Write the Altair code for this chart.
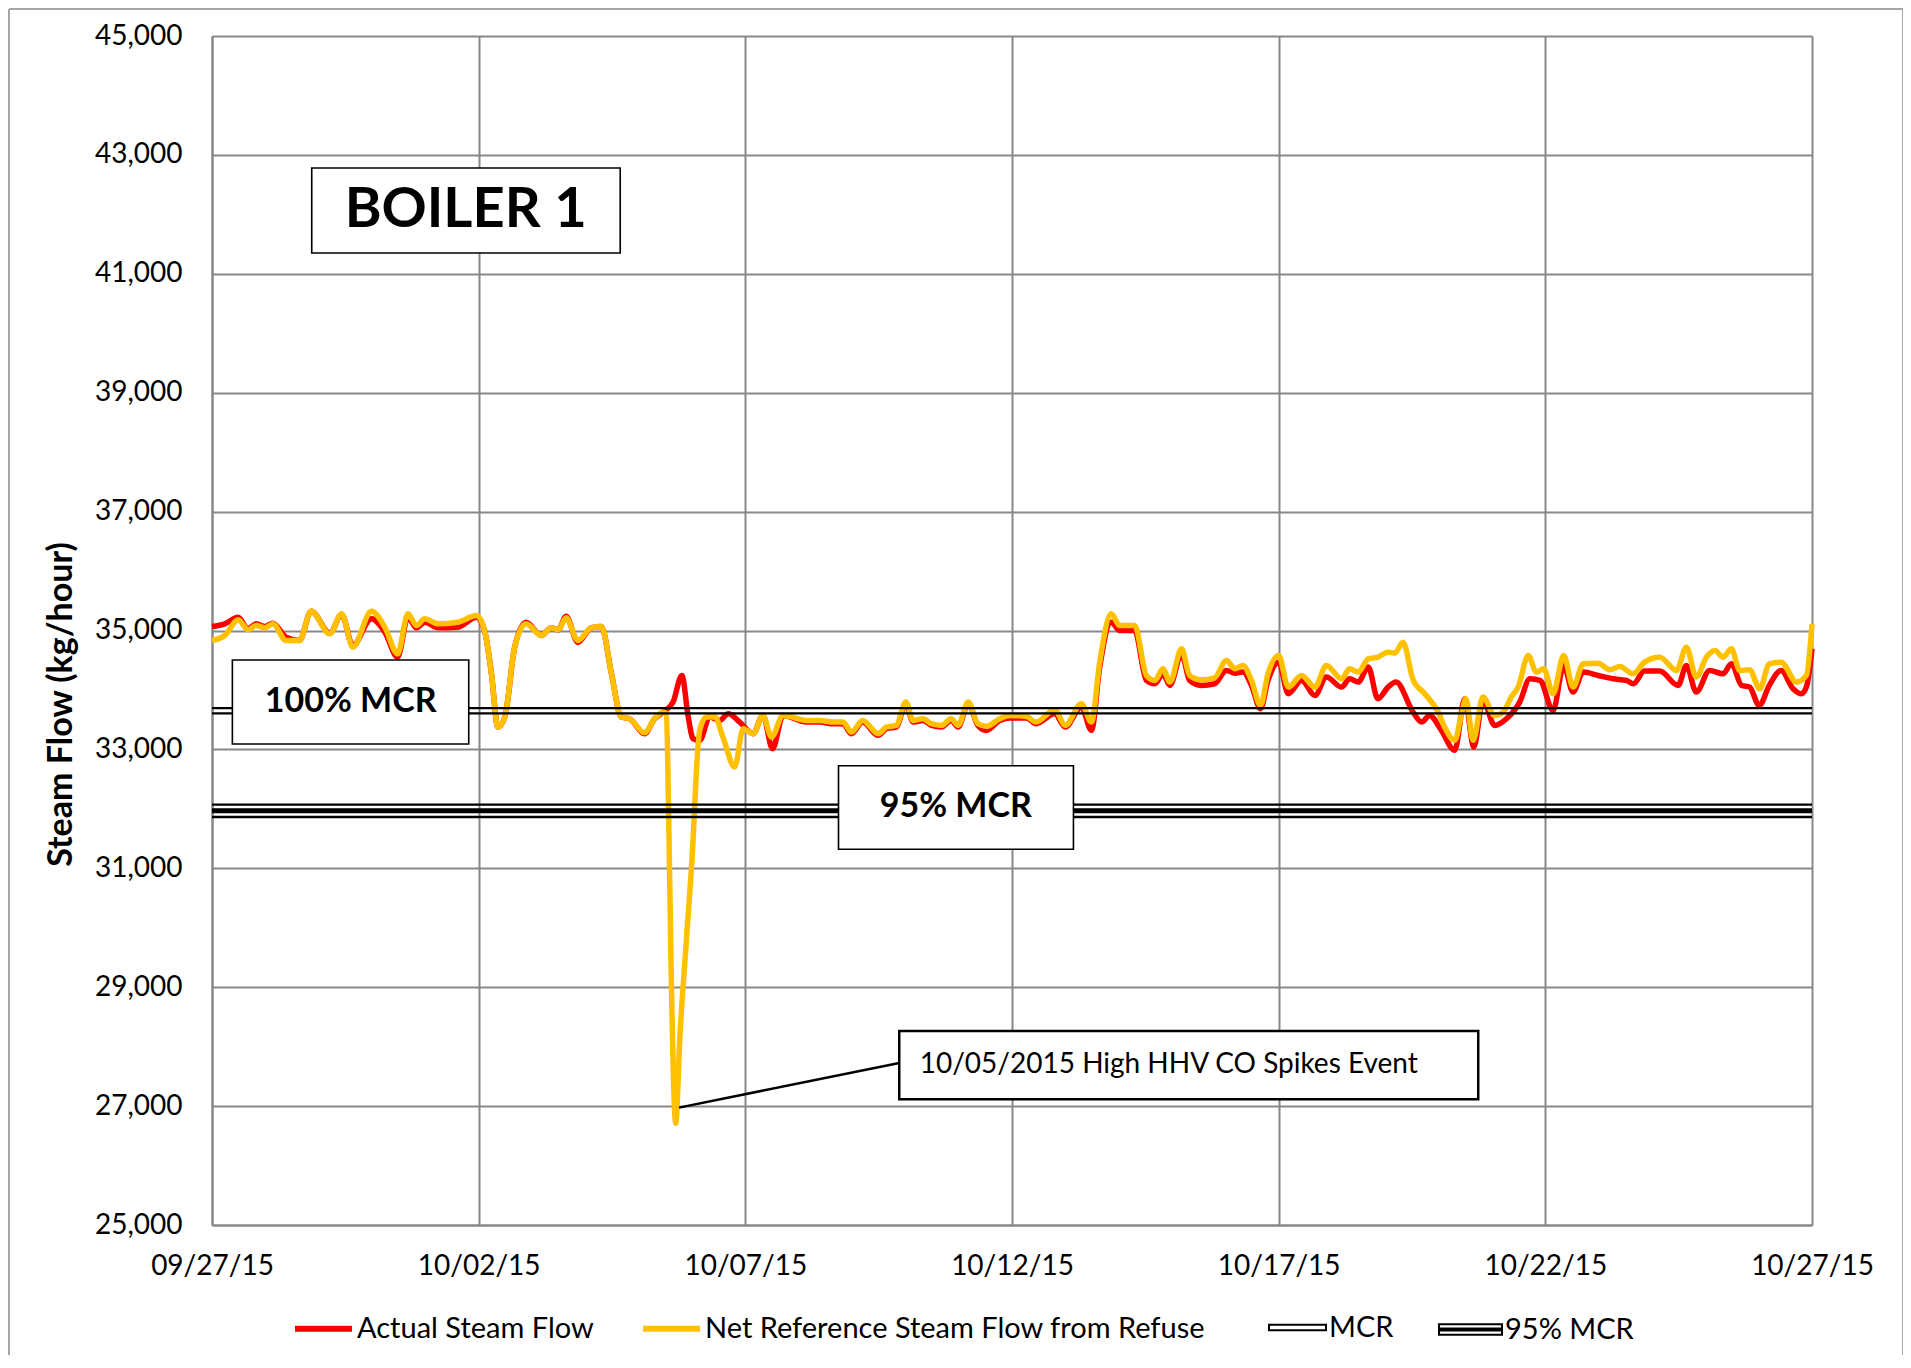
import altair as alt
import pandas as pd

# ---------------- data ----------------
start = pd.Timestamp("2015-09-27")
series_names = ["Actual Steam Flow", "Net Reference Steam Flow from Refuse"]
series_colors = ["#FF0000", "#FFC000"]

actual_day = [0.00, 0.24, 0.49, 0.675, 0.83, 0.99, 1.14, 1.39, 1.64, 1.86,
              2.21, 2.43, 2.64, 2.99, 3.24, 3.48, 3.675, 3.83, 3.99, 4.24,
              4.61, 4.96, 5.11, 5.24, 5.36, 5.49, 5.675, 5.89, 6.175, 6.36,
              6.49, 6.64, 6.86, 7.11, 7.3, 7.49, 7.675, 7.83, 8.11, 8.30,
              8.46, 8.645, 8.81, 8.93, 9.02, 9.145, 9.33, 9.52, 9.68, 9.895,
              10.145, 10.33, 10.51, 10.71, 11.145, 11.4, 11.645, 11.83, 11.99, 12.2,
              12.49, 12.645, 12.83, 13.01, 13.145, 13.33, 13.49, 13.68, 13.86, 13.99,
              14.18, 14.36, 14.52, 14.77, 14.96, 15.27, 15.45, 15.8, 16.0, 16.3,
              16.49, 16.645, 16.86, 17.02, 17.3, 17.52, 17.68, 17.83, 17.96, 18.18,
              18.33, 18.55, 18.8, 19.02, 19.18, 19.33, 19.49, 19.66, 19.80, 20.0,
              20.18, 20.43, 20.68, 20.895, 21.18, 21.33, 21.49, 21.68, 21.86, 22.05,
              22.2, 22.52, 22.68, 22.83, 23.05, 23.3, 23.49, 23.66, 23.83, 24.05,
              24.27, 24.52, 24.71, 24.90, 25.145, 25.345, 25.52, 25.71, 25.99, 26.27,
              26.52, 26.65, 26.86, 27.145, 27.49, 27.645, 27.83, 28.08, 28.33, 28.49,
              28.68, 28.83, 29.01, 29.2, 29.42, 29.645, 29.8, 29.895, 30.0]
actual_flow = [35067, 35112, 35224, 35028, 35112, 35067, 35123, 34888, 34832, 35325,
               34955, 35269, 34748, 35196, 34972, 34552, 35224, 35045, 35140, 35045,
               35056, 35224, 35000, 34272, 33376, 33544, 34720, 35140, 34916, 35045,
               35011, 35240, 34800, 35045, 35067, 34272, 33544, 33516, 33264, 33516,
               33628, 33796, 34244, 33544, 33180, 33152, 33544, 33488, 33600, 33460,
               33264, 33572, 33012, 33572, 33460, 33460, 33430, 33430, 33264, 33460,
               33236, 33350, 33376, 33768, 33460, 33488, 33404, 33376, 33488, 33376,
               33768, 33404, 33320, 33488, 33530, 33530, 33432, 33600, 33376, 33712,
               33320, 34384, 35140, 35000, 35000, 34160, 34104, 34272, 34076, 34608,
               34160, 34076, 34104, 34328, 34283, 34300, 34076, 33684, 34160, 34468,
               33936, 34160, 33908, 34216, 34048, 34188, 34132, 34384, 33852, 34048,
               34132, 33628, 33460, 33572, 33320, 32984, 33852, 33040, 33824, 33404,
               33516, 33796, 34188, 34160, 33656, 34412, 33964, 34300, 34244, 34188,
               34160, 34104, 34317, 34317, 34076, 34412, 33964, 34328, 34272, 34440,
               34076, 34048, 33740, 34076, 34328, 34020, 33936, 34048, 34692]

net_day = [0.00, 0.24, 0.49, 0.675, 0.83, 0.99, 1.14, 1.39, 1.64, 1.86,
           2.21, 2.43, 2.64, 2.99, 3.24, 3.48, 3.675, 3.83, 3.99, 4.24,
           4.61, 4.96, 5.11, 5.24, 5.36, 5.49, 5.675, 5.89, 6.175, 6.36,
           6.49, 6.64, 6.86, 7.11, 7.3, 7.49, 7.675, 7.83, 8.11, 8.30,
           8.46, 8.52, 8.56, 8.61, 8.695, 8.77, 8.895, 9.02, 9.08, 9.145,
           9.27, 9.43, 9.58, 9.80, 9.96, 10.145, 10.33, 10.49, 10.71, 11.145,
           11.4, 11.645, 11.83, 11.99, 12.2, 12.49, 12.645, 12.83, 13.01, 13.145,
           13.33, 13.49, 13.68, 13.86, 13.99, 14.18, 14.36, 14.52, 14.77, 14.96,
           15.27, 15.45, 15.8, 16.0, 16.3, 16.49, 16.645, 16.86, 17.02, 17.3,
           17.52, 17.68, 17.83, 17.96, 18.18, 18.33, 18.55, 18.8, 19.02, 19.18,
           19.33, 19.49, 19.66, 19.80, 20.0, 20.18, 20.43, 20.68, 20.895, 21.18,
           21.33, 21.49, 21.68, 21.86, 22.05, 22.18, 22.33, 22.52, 22.74, 22.99,
           23.11, 23.3, 23.43, 23.51, 23.645, 23.83, 24.05, 24.21, 24.36, 24.49,
           24.68, 24.83, 24.97, 25.145, 25.345, 25.52, 25.71, 25.99, 26.21, 26.395,
           26.645, 26.86, 27.145, 27.46, 27.645, 27.83, 28.02, 28.18, 28.33, 28.49,
           28.645, 28.83, 29.02, 29.2, 29.42, 29.71, 29.895, 30.0]
net_flow = [34832, 34916, 35179, 35011, 35084, 35045, 35112, 34832, 34832, 35325,
            34944, 35280, 34720, 35325, 35056, 34608, 35280, 35084, 35196, 35112,
            35140, 35252, 35000, 34272, 33376, 33544, 34720, 35112, 34916, 35045,
            35011, 35213, 34832, 35045, 35067, 34272, 33544, 33516, 33280, 33516,
            33628, 33600, 32032, 29232, 26712, 28112, 29792, 31472, 32592, 33320,
            33544, 33544, 33208, 32704, 33348, 33264, 33572, 33208, 33572, 33488,
            33488, 33460, 33460, 33292, 33488, 33264, 33376, 33404, 33796, 33488,
            33516, 33432, 33404, 33516, 33404, 33796, 33432, 33388, 33516, 33572,
            33555, 33460, 33667, 33404, 33768, 33460, 34468, 35280, 35084, 35084,
            34244, 34160, 34356, 34132, 34692, 34244, 34171, 34205, 34496, 34356,
            34412, 34160, 33740, 34272, 34580, 34048, 34244, 34048, 34412, 34188,
            34356, 34300, 34524, 34552, 34636, 34619, 34804, 34171, 33936, 33628,
            33376, 33152, 33600, 33852, 33152, 33880, 33572, 33628, 33880, 34048,
            34580, 34300, 34356, 33936, 34580, 34048, 34440, 34451, 34339, 34395,
            34272, 34468, 34552, 34328, 34720, 34216, 34552, 34664, 34552, 34692,
            34328, 34339, 34020, 34440, 34468, 34132, 34244, 35112]

mcr_flow = 33650
mcr95_flow = 0.95 * mcr_flow

y_ticks = list(range(25000, 45001, 2000))
x_tick_dates = ["2015-09-27", "2015-10-02", "2015-10-07", "2015-10-12",
                "2015-10-17", "2015-10-22", "2015-10-27"]

# annotation boxes / texts (in data coordinates: days since 09/27, flow)
box_day_start = [1.870, 0.382, 11.747]
box_day_end = [7.654, 4.814, 16.152]
box_top = [42780, 34504, 32726]
box_bottom = [41350, 33091, 31320]

event_box_day = [12.886, 23.742]
event_box_flow = [28263, 27114]
event_text = "10/05/2015 High HHV CO Spikes Event"
leader_day = [8.757, 12.886]
leader_flow = [26974, 27726]


def stamp(days):
    return [start + pd.Timedelta(days=d) for d in days]


def dt(s):
    t = pd.Timestamp(s)
    return alt.DateTime(year=t.year, month=t.month, date=t.day)


actual_df = pd.DataFrame({"time": stamp(actual_day), "flow": actual_flow,
                          "series": series_names[0]})
net_df = pd.DataFrame({"time": stamp(net_day), "flow": net_flow,
                       "series": series_names[1]})

FONT = "Lato"
LEG_Y = 1261

x_scale = alt.Scale(domain=[dt(x_tick_dates[0]), dt(x_tick_dates[-1])])
x_axis = alt.Axis(values=[dt(s) for s in x_tick_dates], format="%m/%d/%y", title=None,
                  grid=True, tickSize=0, labelPadding=27, labelFlush=False,
                  labelFontSize=28)
y_scale = alt.Scale(domain=[25000, 45000], nice=False, zero=False)
y_axis = alt.Axis(values=y_ticks, format=",d", title="Steam Flow (kg/hour)", grid=True,
                  tickSize=0, labelPadding=30, labelFontSize=28, labelFlush=False,
                  titleFontSize=34, titleFontWeight="bold", titleAngle=270,
                  titleX=-141, titleY=668, titleAlign="center",
                  titleBaseline="alphabetic")

X = alt.X("time:T", scale=x_scale, axis=x_axis)
Y = alt.Y("flow:Q", scale=y_scale, axis=y_axis)

# ---------------- series ----------------
series_color = alt.Color(
    "series:N",
    scale=alt.Scale(domain=series_names, range=series_colors),
    legend=alt.Legend(orient="none", legendX=80, legendY=LEG_Y, direction="horizontal",
                      columns=2, title=None, symbolType="stroke", symbolSize=3249,
                      symbolStrokeWidth=6, labelFontSize=29, labelOffset=2,
                      labelLimit=1000, columnPadding=37, padding=0),
)
red = alt.Chart(actual_df).mark_line(strokeWidth=5.5, interpolate="monotone").encode(
    x=X, y=Y, color=series_color)
yellow = alt.Chart(net_df).mark_line(strokeWidth=5.5, interpolate="monotone").encode(
    x=X, y=Y, color=series_color)
series = alt.layer(red, yellow)

# ---------------- MCR lines ----------------
mcr_df = pd.DataFrame({"flow": [mcr_flow], "series": ["MCR"]})
m95_df = pd.DataFrame({"flow": [mcr95_flow], "series": ["95% MCR"]})

mcr_legend = alt.Legend(orient="none", legendX=1056, legendY=LEG_Y + 1, title=None,
                        symbolType="M-1,-0.1L1,-0.1L1,0.1L-1,0.1Z", symbolSize=3249,
                        symbolStrokeWidth=2, symbolFillColor="white",
                        labelFontSize=29, labelOffset=2, labelLimit=1000, padding=0)
m95_legend = alt.Legend(orient="none", legendX=1226, legendY=LEG_Y, title=None,
                        symbolType="M-1,-0.17L1,-0.17L1,0.17L-1,0.17Z M-1,-0.03L1,-0.03L1,0.03L-1,0.03Z",
                        symbolSize=3969, symbolStrokeWidth=2, symbolFillColor="white",
                        labelFontSize=29, labelOffset=2, labelLimit=1000, padding=0)

mcr_a = alt.Chart(mcr_df).mark_rule(strokeWidth=2.2, yOffset=-2.7).encode(
    y=Y, color=alt.Color("series:N", scale=alt.Scale(domain=["MCR"], range=["black"]),
                         legend=mcr_legend))
mcr_b = alt.Chart(mcr_df).mark_rule(strokeWidth=2.2, yOffset=2.7, color="black").encode(y=Y)

m95_a = alt.Chart(m95_df).mark_rule(strokeWidth=2.3, yOffset=-6.2).encode(
    y=Y, color=alt.Color("series:N", scale=alt.Scale(domain=["95% MCR"], range=["black"]),
                         legend=m95_legend))
m95_b = alt.Chart(m95_df).mark_rule(strokeWidth=2.3, yOffset=6.2, color="black").encode(y=Y)
m95_c = alt.Chart(m95_df).mark_rule(strokeWidth=5, color="black").encode(y=Y)

# ---------------- annotation boxes & texts ----------------
box_df = pd.DataFrame({"time": stamp(box_day_start), "time2": stamp(box_day_end),
                       "flow": box_top, "flow2": box_bottom})
boxes = alt.Chart(box_df).mark_rect(fill="white", stroke="black", strokeWidth=1.6).encode(
    x=X, x2="time2:T", y=Y, y2="flow2:Q")

ev_df = pd.DataFrame({"time": stamp([event_box_day[0]]), "time2": stamp([event_box_day[1]]),
                      "flow": [event_box_flow[0]], "flow2": [event_box_flow[1]]})
ev_box = alt.Chart(ev_df).mark_rect(fill="white", stroke="black", strokeWidth=2.5).encode(
    x=X, x2="time2:T", y=Y, y2="flow2:Q")

leader_df = pd.DataFrame({"time": stamp([leader_day[0]]), "time2": stamp([leader_day[1]]),
                          "flow": [leader_flow[0]], "flow2": [leader_flow[1]]})
leader = alt.Chart(leader_df).mark_rule(strokeWidth=2.5, color="black").encode(
    x=X, x2="time2:T", y=Y, y2="flow2:Q")

boiler_df = pd.DataFrame({"time": stamp([4.757]), "flow": [42065], "label": ["BOILER 1"]})
boiler_text = alt.Chart(boiler_df).mark_text(
    font=FONT, fontWeight="bold", fontSize=56, align="center", baseline="middle",
    color="black").encode(x=X, y=Y, text="label:N")

mcr_lab_df = pd.DataFrame({"time": stamp([2.601, 13.945]), "flow": [33797, 32023],
                           "label": ["100% MCR", "95% MCR"]})
mcr_text = alt.Chart(mcr_lab_df).mark_text(
    font=FONT, fontWeight="bold", fontSize=34, align="center", baseline="middle",
    color="black").encode(x=X, y=Y, text="label:N")

ev_lab_df = pd.DataFrame({"time": stamp([13.27]), "flow": [27691], "label": [event_text]})
ev_text = alt.Chart(ev_lab_df).mark_text(
    font=FONT, fontSize=28, align="left", baseline="middle", color="black").encode(
    x=X, y=Y, text="label:N")

# ---------------- outer frame ----------------
one = pd.DataFrame({"k": [0]})
frame_left = alt.Chart(one).mark_rule(color="#A6A6A6", strokeWidth=2).encode(
    x=alt.value(-203), y=alt.value(-27), y2=alt.value(1330))
frame_top = alt.Chart(one).mark_rule(color="#A6A6A6", strokeWidth=2).encode(
    x=alt.value(-203), x2=alt.value(1691), y=alt.value(-27))
frame_right = alt.Chart(one).mark_rule(color="#A6A6A6", strokeWidth=2).encode(
    x=alt.value(1691), y=alt.value(-27), y2=alt.value(1330))

chart = alt.layer(
    frame_left, frame_top, frame_right,
    series,
    mcr_a, mcr_b, m95_a, m95_b, m95_c,
    boxes, ev_box, leader,
    boiler_text, mcr_text, ev_text,
).resolve_scale(color="independent").properties(
    width=1600, height=1189,
    padding={"left": 204, "top": 28, "right": 91, "bottom": 130},
    autosize=alt.AutoSizeParams(type="none"),
).configure(background="white").configure_axis(
    labelFont=FONT, titleFont=FONT, labelColor="black", titleColor="black",
    gridColor="#888888", gridWidth=2, gridOpacity=1,
    domainColor="#888888", domainWidth=2,
).configure_legend(labelFont=FONT, labelColor="black").configure_view(strokeWidth=0)

chart.save("out.html", embed_options={"renderer": "svg", "actions": False})
